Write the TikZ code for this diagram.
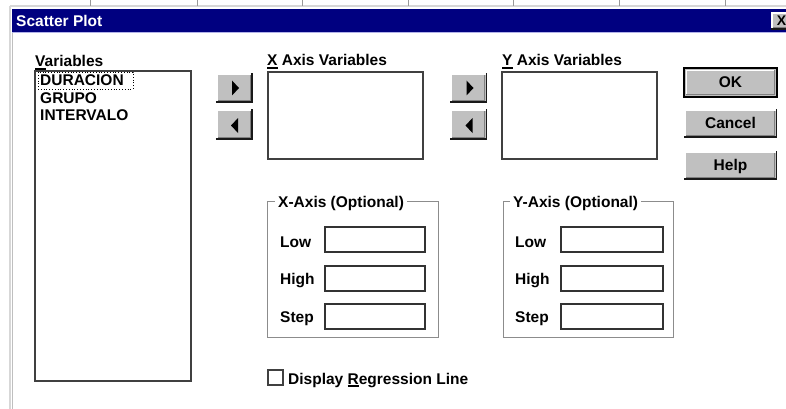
\documentclass[tikz,border=0pt]{standalone}
\usepackage{fontspec}
\setmainfont{Liberation Sans}
\definecolor{btngray}{RGB}{192,192,192}
\definecolor{navy}{RGB}{0,0,128}
\definecolor{frame}{RGB}{215,215,215}
\newcommand{\ulc}[1]{\setbox0\hbox{#1}\rlap{\rule[-2.6pt]{\wd0}{1.2pt}}#1}
\newcommand{\winbevel}[1]{%
  \draw[hilite] ([xshift=1pt,yshift=1pt]#1.south west) -- ([xshift=1pt,yshift=-1pt]#1.north west) -- ([xshift=-1pt,yshift=-1pt]#1.north east);
  \draw[innershade] ([xshift=2pt,yshift=2pt]#1.south west) -- ([xshift=-2pt,yshift=2pt]#1.south east) -- ([xshift=-2pt,yshift=-2pt]#1.north east);
  \draw[btnshadow] (#1.south west) -- (#1.south east) -- (#1.north east);}
\tikzset{
  lbl/.style={anchor=base west, inner sep=0pt, text=black},
  listbox/.style={draw=black!75, line width=1.4pt, fill=white, inner sep=0pt},
  field/.style={draw=black!80, line width=1.2pt, fill=white, inner sep=0pt},
  btnface/.style={fill=btngray, inner sep=0pt},
  hilite/.style={white, line width=1.5pt},
  innershade/.style={black!50, line width=1pt},
  btnshadow/.style={black!90, line width=1.5pt},
  groupbox/.style={draw=black!45, line width=1pt},
  grouptitle/.style={anchor=base west, fill=white, inner xsep=3pt, inner ysep=1pt},
  tick/.style={black!40, line width=1pt},
}
\begin{document}
\begin{tikzpicture}[x=1pt, y=-1pt, font=\fontsize{15.5}{18}\selectfont\bfseries]
\path[use as bounding box] (0,0) rectangle (786,409);
\clip (0,0) rectangle (786,409);
\fill[white] (0,0) rectangle (786,409);
% background strip above the dialog
\draw[frame, line width=2pt] (10,6) -- (786,6);
\foreach \tx in {90,197,302,408,513,619,725} \draw[tick] (\tx,0) -- (\tx,6);
% dialog left frame
\draw[frame, line width=2pt] (10,6) -- (10,409);
\draw[black!25, line width=1pt] (12,32) -- (12,409);
% title bar
\node[fill=navy, inner sep=0pt, minimum width=774pt, minimum height=23pt, anchor=north west] (titlebar) at (12,9) {};
\draw[black!30!blue!30, line width=1pt] (titlebar.south west) -- (titlebar.south east);
\node[lbl, text=white] (title) at (16,27) {Scatter Plot};
\node[btnface, minimum width=20pt, minimum height=17pt] (close) at (781,20.5) {};
\winbevel{close}
\node[inner sep=0pt, font=\fontsize{14}{16}\selectfont\bfseries] (closex) at (781.5,20.5) {X};
% Variables list
\node[lbl] (varlbl) at (35,67) {\ulc{V}ariables};
\node[listbox, minimum width=156pt, minimum height=310pt] (varlist) at (113,226) {};
\node[draw=black, dotted, line width=0.8pt, inner sep=0pt, minimum width=95pt, minimum height=17pt] (focus) at (85.5,80.5) {};
\node[lbl] (v1) at (40,86) {DURACION};
\node[lbl] (v2) at (40,103) {GRUPO};
\node[lbl] (v3) at (40,121) {INTERVALO};
% arrow buttons
\node[btnface, minimum width=36pt, minimum height=29pt] (xr) at (234,87.5) {};
\node[btnface, minimum width=36pt, minimum height=30pt] (xl) at (234,124) {};
\node[btnface, minimum width=36pt, minimum height=29pt] (yr) at (468.5,87.5) {};
\node[btnface, minimum width=36pt, minimum height=30pt] (yl) at (468.5,124) {};
\foreach \b in {xr,xl,yr,yl} {\winbevel{\b}}
\foreach \b in {xr,yr} \fill ([shift={(-2,-7)}]\b.center) -- ([shift={(-2,8)}]\b.center) -- ([shift={(5,0.5)}]\b.center) -- cycle;
\foreach \b in {xl,yl} \fill ([shift={(4,-6)}]\b.center) -- ([shift={(4,9)}]\b.center) -- ([shift={(-3,1.5)}]\b.center) -- cycle;
% axis variable lists
\node[lbl] (xlbl) at (267,66) {\ulc{X} Axis Variables};
\node[listbox, minimum width=155pt, minimum height=87pt] (xlist) at (345.5,115.5) {};
\node[lbl] (ylbl) at (502,66) {\ulc{Y} Axis Variables};
\node[listbox, minimum width=155pt, minimum height=87pt] (ylist) at (579.5,115.5) {};
% command buttons
\node[btnface, minimum width=93pt, minimum height=29pt] (ok) at (730.5,82.5) {};
\draw[black, line width=1.5pt] (ok.south west) rectangle (ok.north east);
\draw[hilite] ([xshift=2.5pt,yshift=2.5pt]ok.south west) -- ([xshift=2.5pt,yshift=-2.5pt]ok.north west) -- ([xshift=-2.5pt,yshift=-2.5pt]ok.north east);
\draw[innershade] ([xshift=2.5pt,yshift=2.5pt]ok.south west) -- ([xshift=-2.5pt,yshift=2.5pt]ok.south east) -- ([xshift=-2.5pt,yshift=-2.5pt]ok.north east);
\node[inner sep=0pt, anchor=base] (oktext) at (730.5,88) {OK};
\node[btnface, minimum width=92pt, minimum height=28pt] (cancel) at (730.5,123) {};
\winbevel{cancel}
\node[inner sep=0pt, anchor=base] (canceltext) at (730.5,128.5) {Cancel};
\node[btnface, minimum width=92pt, minimum height=28pt] (help) at (730.5,165) {};
\winbevel{help}
\node[inner sep=0pt, anchor=base] (helptext) at (730.5,170.5) {Help};
% X-Axis group
\node[groupbox, inner sep=0pt, minimum width=171pt, minimum height=136pt, anchor=north west] (xgroup) at (267,201) {};
\node[grouptitle] (xgtitle) at (275,207) {X-Axis (Optional)};
\node[lbl] (xlow) at (280,247) {Low};
\node[lbl] (xhigh) at (280,284) {High};
\node[lbl] (xstep) at (280,322) {Step};
\node[field, minimum width=100pt, minimum height=25pt] (xlowf) at (375,239.5) {};
\node[field, minimum width=100pt, minimum height=25pt] (xhighf) at (375,278.5) {};
\node[field, minimum width=100pt, minimum height=25pt] (xstepf) at (375,316.5) {};
% Y-Axis group
\node[groupbox, inner sep=0pt, minimum width=170pt, minimum height=136pt, anchor=north west] (ygroup) at (503,201) {};
\node[grouptitle] (ygtitle) at (510,207) {Y-Axis (Optional)};
\node[lbl] (ylow) at (515,247) {Low};
\node[lbl] (yhigh) at (515,284) {High};
\node[lbl] (ystep) at (515,322) {Step};
\node[field, minimum width=102pt, minimum height=25pt] (ylowf) at (612,239.5) {};
\node[field, minimum width=102pt, minimum height=25pt] (yhighf) at (612,278.5) {};
\node[field, minimum width=102pt, minimum height=25pt] (ystepf) at (612,316.5) {};
% checkbox
\node[draw=black!75, line width=1.2pt, fill=white, inner sep=0pt, minimum size=15pt] (chk) at (275.5,377.5) {};
\node[lbl] (chklbl) at (288,384) {Display \ulc{R}egression Line};
\end{tikzpicture}
\end{document}
